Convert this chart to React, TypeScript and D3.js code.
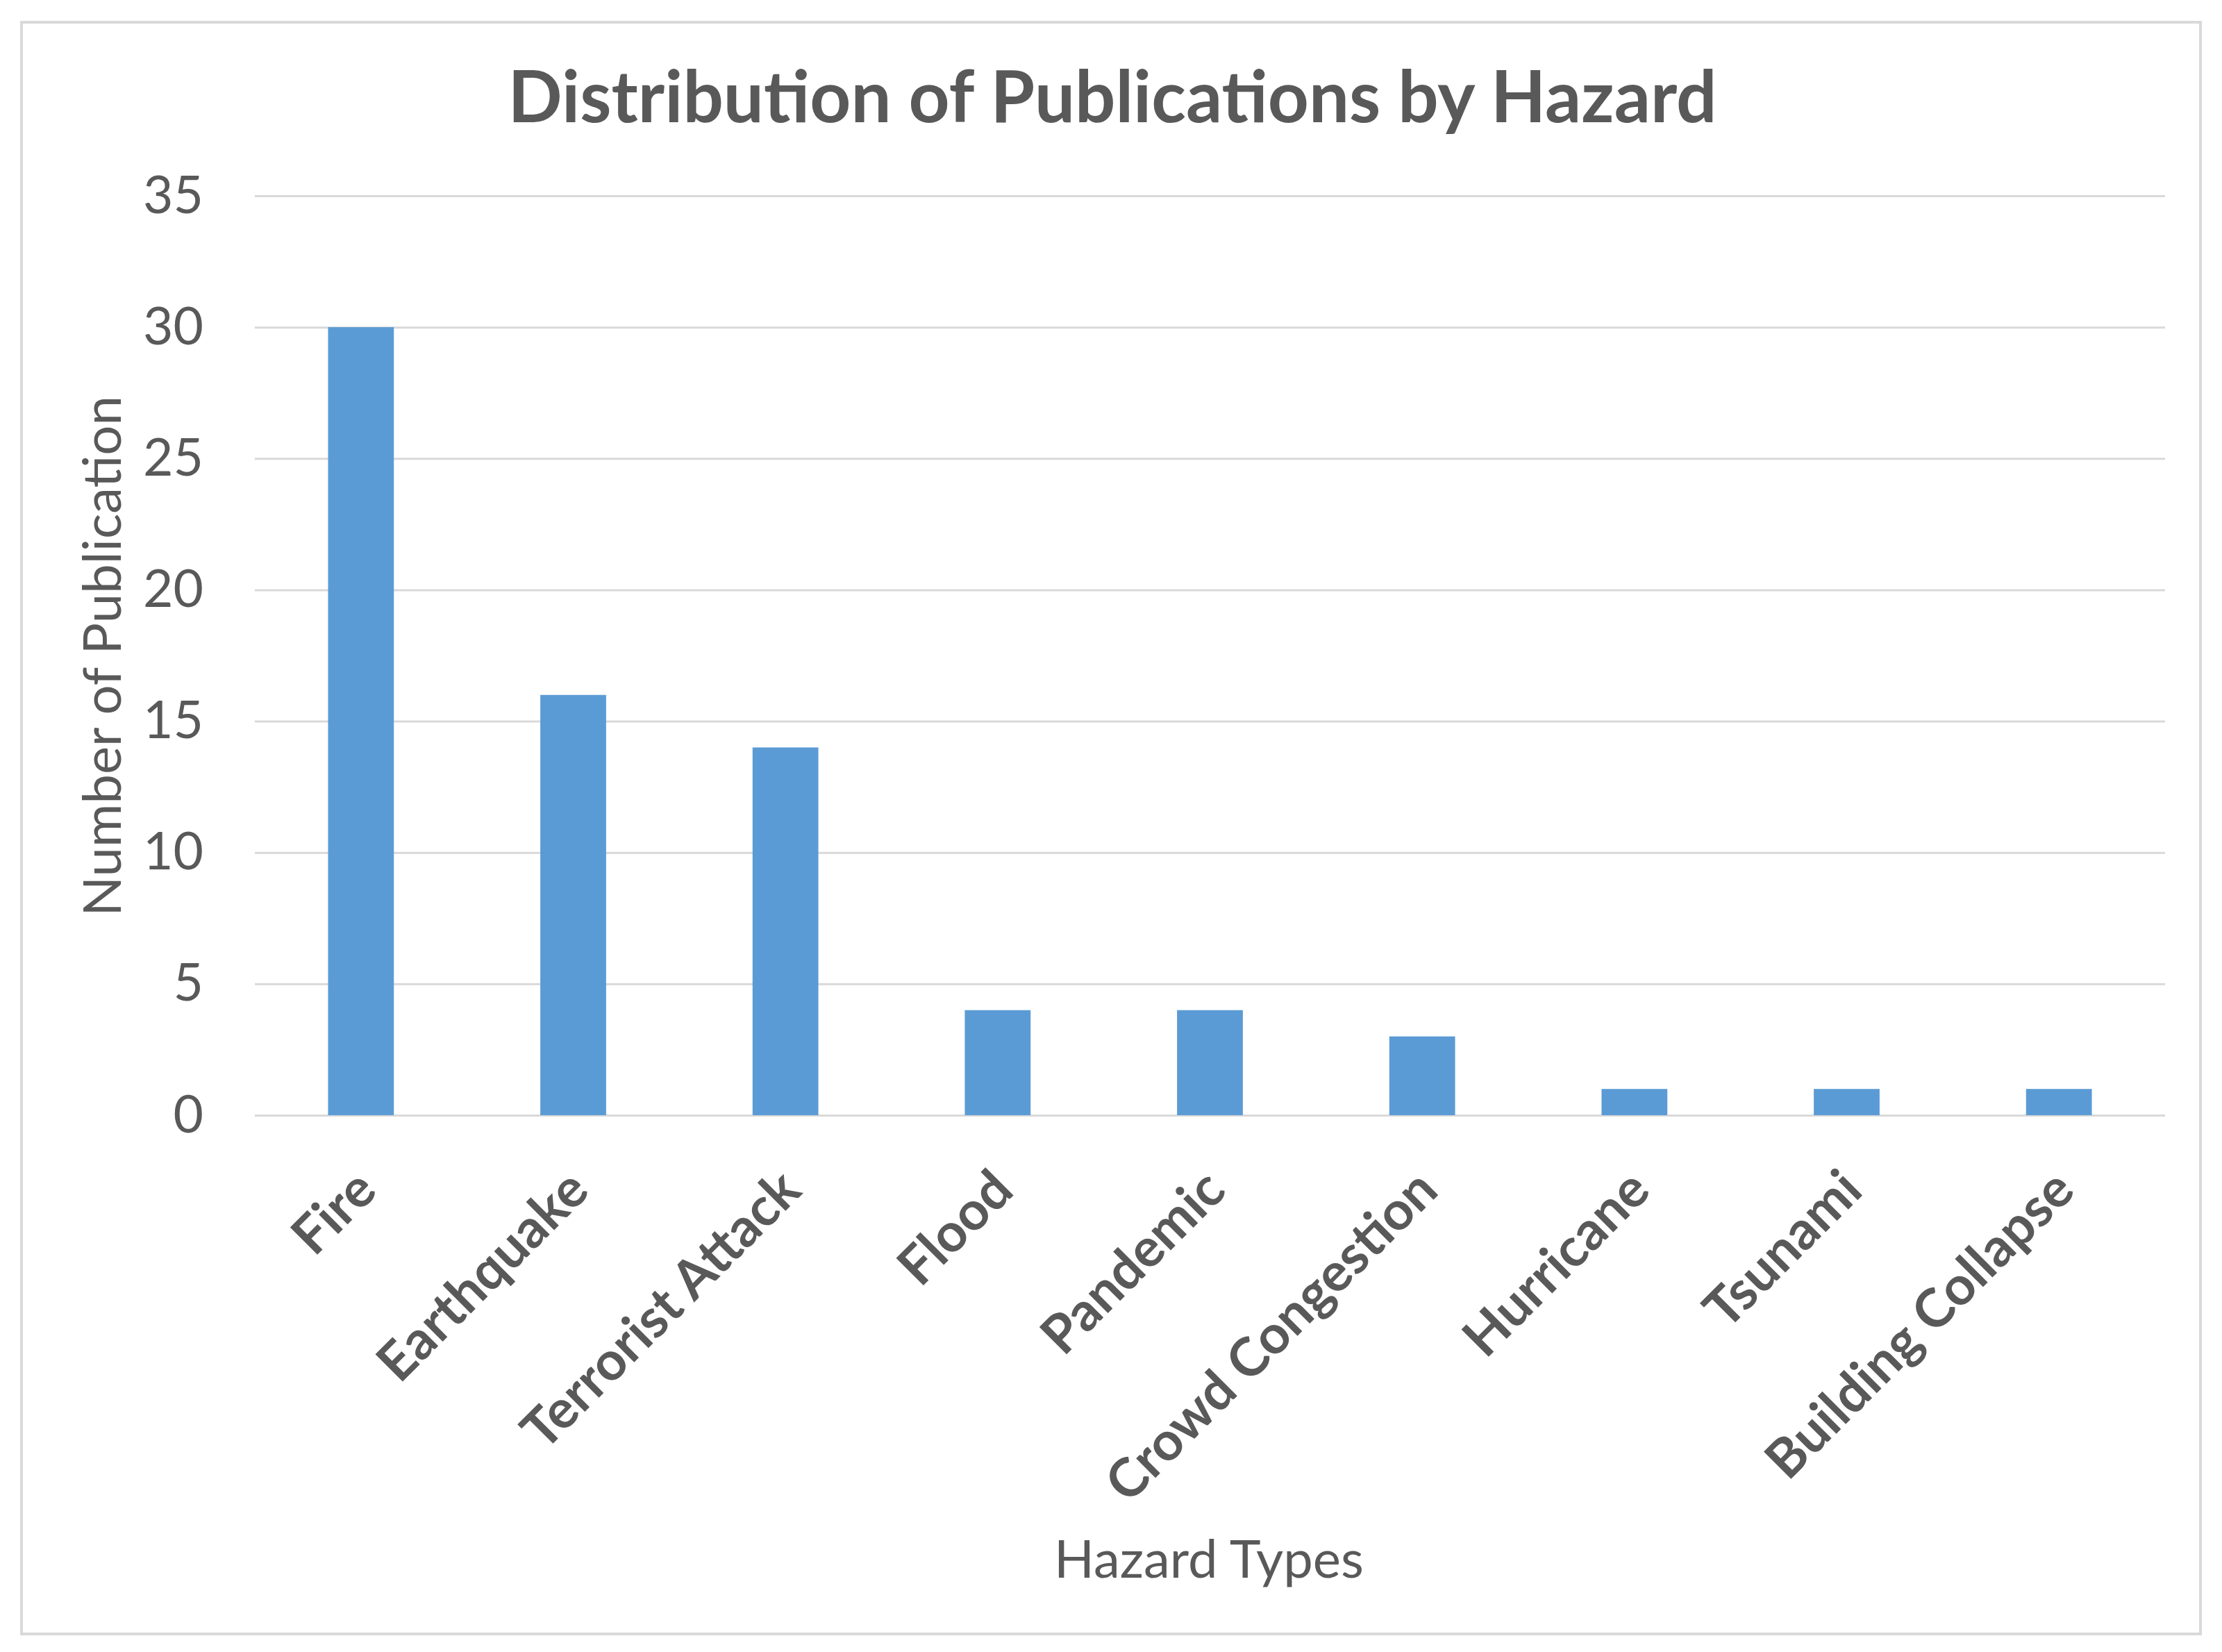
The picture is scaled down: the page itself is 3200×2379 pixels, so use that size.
import * as d3 from "d3";
import { useEffect, useRef } from "react";

const hazards = [
  "Fire",
  "Earthquake",
  "Terrorist Attack",
  "Flood",
  "Pandemic",
  "Crowd Congestion",
  "Hurricane",
  "Tsunami",
  "Building Collapse",
];
const publications = [30, 16, 14, 4, 4, 3, 1, 1, 1];
const yTicks = [0, 5, 10, 15, 20, 25, 30, 35];

const title = "Distribution of Publications by Hazard";
const xTitle = "Hazard Types";
const yTitle = "Number of Publication";

export const App = () => {
  const svgRef = useRef(null);

  const dims = {
    width: 3200,
    height: 2379,
    marginLeft: 367,
    marginRight: 82,
    marginTop: 282,
    marginBottom: 773,
  };
  const { width, height, marginLeft, marginRight, marginTop, marginBottom } = dims;
  const plotBottom = height - marginBottom;
  const textColor = "#595959";
  const font = "Lato, 'Open Sans', sans-serif";

  useEffect(() => {
    drawChart();
  }, []);

  function drawChart() {
    const svg = d3.select(svgRef.current);
    svg.selectAll("*").remove();

    svg
      .append("rect")
      .attr("x", 31)
      .attr("y", 32)
      .attr("width", 3138)
      .attr("height", 2321)
      .attr("fill", "white")
      .attr("stroke", "#d9d9d9")
      .attr("stroke-width", 4);

    const xScale = d3
      .scaleBand()
      .domain(hazards)
      .range([marginLeft, width - marginRight])
      .paddingInner(0.69)
      .paddingOuter(0.345);

    const yScale = d3.scaleLinear().domain([0, 35]).range([plotBottom, marginTop]);

    // gridlines + y labels
    const yAxis = svg
      .append("g")
      .attr("transform", `translate(${marginLeft},0)`)
      .call(
        d3
          .axisLeft(yScale)
          .tickValues(yTicks)
          .tickSize(-(width - marginLeft - marginRight))
          .tickPadding(74)
      );
    yAxis.select(".domain").remove();
    yAxis.selectAll("line").attr("stroke", "#d9d9d9").attr("stroke-width", 3);
    yAxis
      .selectAll("text")
      .attr("fill", textColor)
      .style("font-family", font)
      .style("font-size", "75px");

    svg
      .selectAll(".bar")
      .data(publications)
      .enter()
      .append("rect")
      .attr("class", "bar")
      .attr("x", (d, i) => xScale(hazards[i]))
      .attr("y", (d) => yScale(d))
      .attr("width", xScale.bandwidth())
      .attr("height", (d) => plotBottom - yScale(d))
      .attr("fill", "#5b9bd5");

    // x category labels, rotated
    svg
      .selectAll(".xLabel")
      .data(hazards)
      .enter()
      .append("text")
      .attr("class", "xLabel")
      .attr(
        "transform",
        (d) => `translate(${xScale(d) + xScale.bandwidth() / 2 + 26},${plotBottom + 112}) rotate(-45)`
      )
      .attr("text-anchor", "end")
      .attr("fill", textColor)
      .style("font-family", font)
      .style("font-weight", "bold")
      .style("font-size", "77px")
      .text((d) => d);

    svg
      .append("text")
      .attr("x", 1602)
      .attr("y", 176)
      .attr("text-anchor", "middle")
      .attr("fill", textColor)
      .style("font-family", font)
      .style("font-weight", "bold")
      .style("font-size", "103px")
      .text(title);

    svg
      .append("text")
      .attr("x", 1741)
      .attr("y", 2272)
      .attr("text-anchor", "middle")
      .attr("fill", textColor)
      .style("font-family", font)
      .style("font-size", "76px")
      .text(xTitle);

    svg
      .append("text")
      .attr("transform", `translate(174,945) rotate(-90)`)
      .attr("text-anchor", "middle")
      .attr("fill", textColor)
      .style("font-family", font)
      .style("font-size", "76px")
      .text(yTitle);
  }

  return (
    <svg
      ref={svgRef}
      width={width}
      height={height}
      style={{ position: "absolute", left: 0, top: 0, background: "white" }}
    ></svg>
  );
};

export default App;
